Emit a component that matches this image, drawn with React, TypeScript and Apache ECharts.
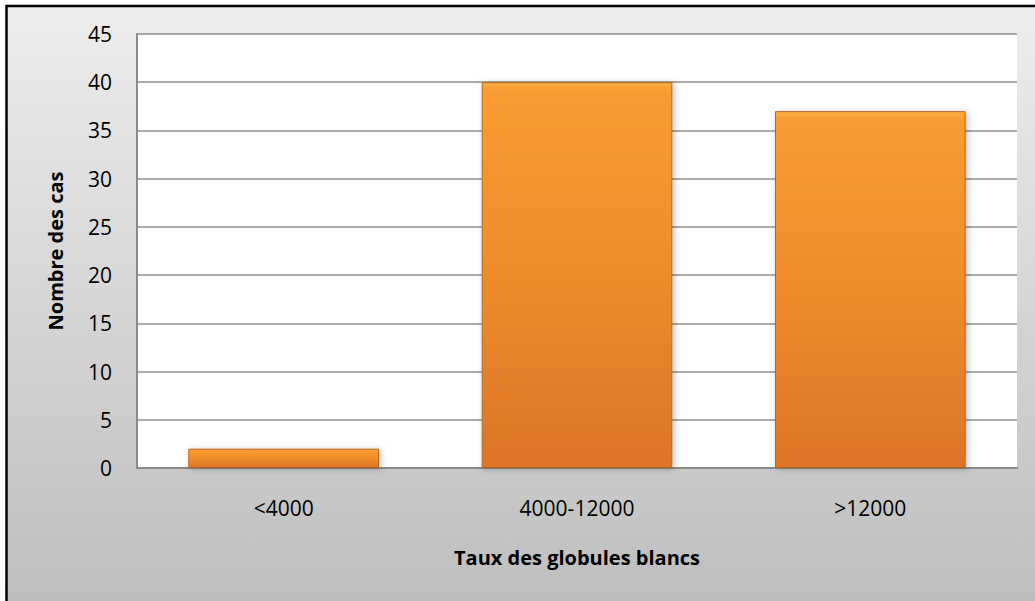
import React, { useEffect, useRef } from "react";
import * as echarts from "echarts";

const categories = ["<4000", "4000-12000", ">12000"];
const counts = [2, 40, 37];
const yTicks = { min: 0, max: 45, interval: 5 };
const xTitle = "Taux des globules blancs";
const yTitle = "Nombre des cas";

export default function App() {
  const ref = useRef<HTMLDivElement>(null);
  useEffect(() => {
    if (!ref.current) return;
    const chart = echarts.init(ref.current, null, { renderer: "svg" });
    const font = "'Open Sans', 'Noto Sans', sans-serif";
    chart.setOption({
      animation: false,
      graphic: [
        {
          type: "rect",
          z: -10,
          silent: true,
          shape: { x: 6.5, y: 6, width: 1040, height: 610 },
          style: {
            fill: new echarts.graphic.LinearGradient(0, 0, 0, 1, [
              { offset: 0, color: "#ededed" },
              { offset: 1, color: "#bdbdbd" },
            ]),
            stroke: "#000",
            lineWidth: 2.5,
          },
        },
        {
          type: "text",
          x: 55,
          y: 251,
          rotation: Math.PI / 2,
          style: {
            text: yTitle,
            font: `bold 20px ${font}`,
            fill: "#000",
            align: "center",
            verticalAlign: "middle",
          },
        },
        {
          type: "text",
          x: 577,
          y: 557,
          style: {
            text: xTitle,
            font: `bold 20px ${font}`,
            fill: "#000",
            align: "center",
            verticalAlign: "middle",
          },
        },
      ],
      grid: {
        left: 137,
        top: 34,
        right: 18,
        bottom: 133,
        show: true,
        backgroundColor: "#ffffff",
        borderWidth: 0,
      },
      xAxis: {
        type: "category",
        data: categories,
        axisLine: { show: true, lineStyle: { color: "#8a8a8a", width: 2 } },
        axisTick: { show: false },
        axisLabel: {
          margin: 29,
          fontFamily: font,
          fontSize: 21,
          color: "#000",
        },
        splitLine: { show: false },
      },
      yAxis: {
        type: "value",
        min: yTicks.min,
        max: yTicks.max,
        interval: yTicks.interval,
        axisLine: { show: true, lineStyle: { color: "#8a8a8a", width: 2 } },
        axisTick: { show: false },
        axisLabel: {
          margin: 25,
          fontFamily: font,
          fontSize: 21,
          color: "#000",
        },
        splitLine: { show: true, lineStyle: { color: "#8e8e8e", width: 1.5 } },
      },
      series: [
        {
          type: "bar",
          data: counts,
          barCategoryGap: "35%",
          itemStyle: {
            color: new echarts.graphic.LinearGradient(0, 0, 0, 1, [
              { offset: 0, color: "#fbb040" },
              { offset: 0.02, color: "#fa9c30" },
              { offset: 0.5, color: "#ef8b2c" },
              { offset: 1, color: "#dd7526" },
            ]),
            borderColor: "#b9641f",
            borderWidth: 1,
            shadowColor: "rgba(0,0,0,0.25)",
            shadowBlur: 6,
            shadowOffsetX: 2,
            shadowOffsetY: 1,
          },
        },
      ],
    });
    return () => chart.dispose();
  }, []);
  return (
    <div
      ref={ref}
      style={{ position: "absolute", left: 0, top: 0, width: 1035, height: 601 }}
    />
  );
}
